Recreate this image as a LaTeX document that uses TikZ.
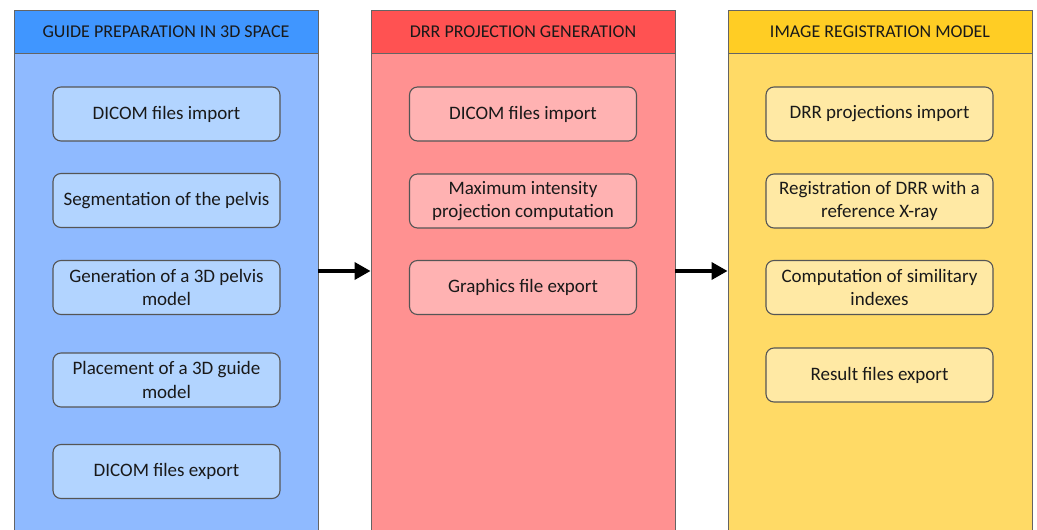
\documentclass[tikz,border=0pt]{standalone}
\usepackage{fontspec}
\setmainfont{Carlito}
\usetikzlibrary{arrows.meta}
\definecolor{bluehead}{RGB}{64,150,255}
\definecolor{bluebody}{RGB}{143,186,255}
\definecolor{bluebox}{RGB}{178,212,255}
\definecolor{redhead}{RGB}{255,82,82}
\definecolor{redbody}{RGB}{255,145,145}
\definecolor{redbox}{RGB}{255,178,178}
\definecolor{yelhead}{RGB}{255,205,36}
\definecolor{yelbody}{RGB}{255,218,102}
\definecolor{yelbox}{RGB}{255,233,164}
\definecolor{edgegray}{RGB}{100,100,100}
\definecolor{boxedge}{RGB}{85,85,85}
\definecolor{txt}{RGB}{25,25,25}
\tikzset{
  colbody/.style={draw=edgegray, line width=0.9pt, minimum width=304pt, minimum height=482pt, inner sep=0pt},
  colhead/.style={draw=edgegray, line width=0.9pt, minimum width=304pt, minimum height=43pt, inner sep=0pt,
    text=txt, font=\fontsize{18}{21}\selectfont},
  stepbox/.style={draw=boxedge, line width=1.1pt, rounded corners=8pt, minimum width=227pt, minimum height=54pt,
    inner sep=2pt, align=center, text=txt, font=\fontsize{19}{23.3}\selectfont},
  arr/.style={line width=3.5pt, -{Triangle[length=16pt,width=17pt]}}
}
\begin{document}
\begin{tikzpicture}[x=1pt,y=-1pt]
\useasboundingbox (0,0) rectangle (1037,530);
\clip (0,0) rectangle (1037,530);
\fill[white] (0,0) rectangle (1037,530);
% columns
\node[colbody, fill=bluebody] (bcol) at (166,294) {};
\node[colbody, fill=redbody] (rcol) at (523,294) {};
\node[colbody, fill=yelbody] (ycol) at (880,294) {};
\node[colhead, fill=bluehead] (bhead) at (166,31.5) {GUIDE PREPARATION IN 3D SPACE};
\node[colhead, fill=redhead] (rhead) at (523,31.5) {DRR PROJECTION GENERATION};
\node[colhead, fill=yelhead] (yhead) at (880,31.5) {IMAGE REGISTRATION MODEL};
% blue boxes
\node[stepbox, fill=bluebox] (b1) at (166.5,114) {DICOM files import};
\node[stepbox, fill=bluebox] (b2) at (166.5,200.5) {Segmentation of the pelvis};
\node[stepbox, fill=bluebox] (b3) at (166.5,287.5) {Generation of a 3D pelvis\\model};
\node[stepbox, fill=bluebox] (b4) at (166.5,380) {Placement of a 3D guide\\model};
\node[stepbox, fill=bluebox] (b5) at (166.5,471.5) {DICOM files export};
% red boxes
\node[stepbox, fill=redbox] (r1) at (523,114) {DICOM files import};
\node[stepbox, fill=redbox] (r2) at (523,201) {Maximum intensity\\projection computation};
\node[stepbox, fill=redbox] (r3) at (523,287.5) {Graphics file export};
% yellow boxes
\node[stepbox, fill=yelbox] (y1) at (879.5,114) {DRR projections import};
\node[stepbox, fill=yelbox] (y2) at (879.5,201) {Registration of DRR with a\\reference X-ray};
\node[stepbox, fill=yelbox] (y3) at (879.5,287.5) {Computation of similitary\\indexes};
\node[stepbox, fill=yelbox] (y4) at (879.5,375) {Result files export};
% arrows
\coordinate (a1) at (318,271);
\coordinate (a2) at (675,271);
\draw[arr] (a1) -- (rcol.west |- a1);
\draw[arr] (a2) -- (ycol.west |- a2);
\end{tikzpicture}
\end{document}
